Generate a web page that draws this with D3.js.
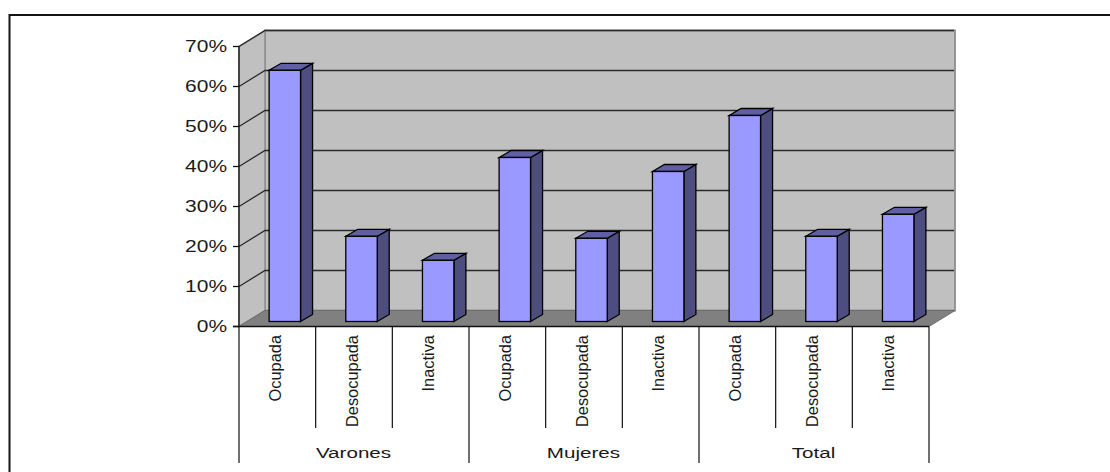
<!DOCTYPE html>
<html><head><meta charset="utf-8">
<script src="https://cdn.jsdelivr.net/npm/d3@7"></script>
<style>html,body{margin:0;padding:0;background:#fff}svg{display:block}text{font-family:"Liberation Sans",Arial,sans-serif;fill:#1a1a1a}</style>
</head><body><svg id="c" width="1110" height="472"></svg>
<script>
const groups = ["Varones","Mujeres","Total"];
const categories = ["Ocupada","Desocupada","Inactiva"];
const values = [62.8,21.3,15.3, 41,20.8,37.5, 51.5,21.3,26.8];
const yTicks = [0,10,20,30,40,50,60,70];

const svg = d3.select("#c");
const front = {l:239,r:929,b:326.5,t:46.5};
const wall = {dx:26,dy:-16};
const barShift = {dx:7.5,dy:-5};
const barDepth = {dx:12,dy:-7};
const keys = d3.range(values.length);
const x = d3.scaleBand().domain(keys).range([front.l,front.r]).paddingInner(0).paddingOuter(0);
const y = d3.scaleLinear().domain([0,70]).range([front.b,front.t]);
const barW = x.bandwidth()*0.41;
const poly = p => "M"+p.map(q=>q.join(",")).join("L")+"Z";

// frame: only the top and left edges show
svg.append("path").attr("d","M1110,15M1110,15L9.5,15L9.5,472").attr("fill","none").attr("stroke","#151515").attr("stroke-width",2);

// walls and floor
const L=front.l,R=front.r,B=front.b,T=front.t,dx=wall.dx,dy=wall.dy;
svg.append("path").attr("d",poly([[L+dx,T+dy],[R+dx,T+dy],[R+dx,B+dy],[L+dx,B+dy]])).attr("fill","#c0c0c0").attr("stroke","#8f8f8f").attr("stroke-width",1.8);
svg.append("path").attr("d",poly([[L,T],[L+dx,T+dy],[L+dx,B+dy],[L,B]])).attr("fill","#c0c0c0").attr("stroke","#8f8f8f").attr("stroke-width",1.5);
svg.append("path").attr("d",poly([[L,B],[L+dx,B+dy],[R+dx,B+dy],[R,B]])).attr("fill","#808080").attr("stroke","#6e6e6e");

// gridlines
yTicks.slice(1).forEach(t=>{
  const g=y(t);
  svg.append("path").attr("d",`M${L},${g}L${L+dx},${g+dy}L${R+dx-1},${g+dy}`).attr("fill","none").attr("stroke","#2a2a2a").attr("stroke-width",1.3);
});

// bars
keys.forEach(i=>{
  const v=values[i], x0=x(i)+(x.bandwidth()-barW)/2+barShift.dx, x1=x0+barW;
  const yb=y(0)+barShift.dy, yt=y(v)+barShift.dy, ddx=barDepth.dx, ddy=barDepth.dy;
  svg.append("path").attr("d",poly([[x1,yb],[x1+ddx,yb+ddy],[x1+ddx,yt+ddy],[x1,yt]])).attr("fill","#4d4d80").attr("stroke","#000").attr("stroke-width",1.3);
  svg.append("path").attr("d",poly([[x0,yt],[x0+ddx,yt+ddy],[x1+ddx,yt+ddy],[x1,yt]])).attr("fill","#6060a0").attr("stroke","#000").attr("stroke-width",1.3);
  svg.append("rect").attr("x",x0).attr("y",yt).attr("width",barW).attr("height",yb-yt).attr("fill","#9999ff").attr("stroke","#000").attr("stroke-width",1.3);
});

// axes
svg.append("line").attr("x1",L).attr("x2",L).attr("y1",T).attr("y2",B).attr("stroke","#111").attr("stroke-width",1.3);
svg.append("line").attr("x1",L-6).attr("x2",R).attr("y1",B).attr("y2",B).attr("stroke","#111").attr("stroke-width",1.3);
yTicks.forEach(t=>{
  svg.append("line").attr("x1",L-6).attr("x2",L).attr("y1",y(t)).attr("y2",y(t)).attr("stroke","#111").attr("stroke-width",1.3);
  svg.append("text").attr("text-anchor","end").attr("transform",`translate(${L-12},${y(t)+5.5}) scale(1.31,1)`).attr("font-size",16).text(t+"%");
});

// category separators and labels
keys.forEach(i=>{
  if(i%3!==0) svg.append("line").attr("x1",x(i)).attr("x2",x(i)).attr("y1",B).attr("y2",428).attr("stroke","#111").attr("stroke-width",1.2);
  svg.append("text").attr("text-anchor","end").attr("font-size",16.4)
    .attr("transform",`translate(${x(i)+x.bandwidth()/2+3.5},335) rotate(-90)`)
    .text(categories[i%3]);
});
d3.range(groups.length+1).forEach(g=>{
  const gx = g<groups.length ? x(g*3) : R;
  svg.append("line").attr("x1",gx).attr("x2",gx).attr("y1",B).attr("y2",463).attr("stroke","#111").attr("stroke-width",1.2);
});
groups.forEach((g,i)=>{
  svg.append("text").attr("text-anchor","middle").attr("font-size",15.5)
    .attr("transform",`translate(${x(i*3)+x.bandwidth()*1.5-0.5},458) scale(1.33,1)`).text(g);
});
</script></body></html>
